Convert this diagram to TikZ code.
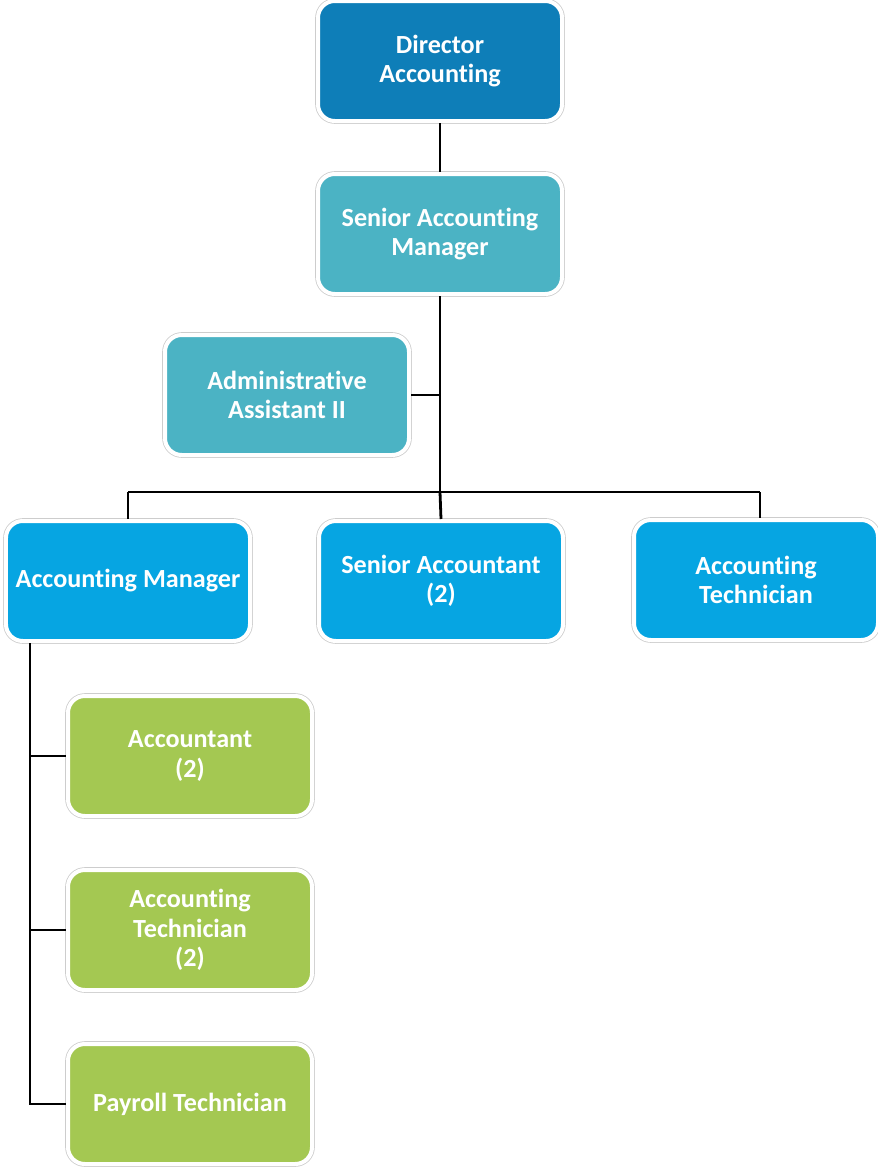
\documentclass[tikz,border=0pt]{standalone}
\usepackage{fontspec}
\setmainfont[Ligatures=NoCommon]{Carlito}
\usepackage{xcolor}
\definecolor{orgdirector}{RGB}{14,126,184}
\definecolor{orgteal}{RGB}{75,179,196}
\definecolor{orgblue}{RGB}{6,165,226}
\definecolor{orggreen}{RGB}{164,200,82}
\definecolor{orgrim}{RGB}{205,205,205}
\begin{document}
\begin{tikzpicture}[every node/.style={font=\bfseries\fontsize{18.6}{20.8}\selectfont, text=white, align=center},
    orgbox/.style={draw=white, line width=0.1cm, rounded corners=0.42cm, minimum width=6.1cm, minimum height=3cm,
      preaction={draw=orgrim, line width=0.14cm}},
    link/.style={line width=0.07cm, black}]
        \useasboundingbox (0,0) rectangle (21.95,-29.175);
        \node[orgbox, fill=orgdirector] (dir) at (11.0,-1.525) {Director\\Accounting};
        \node[orgbox, fill=orgteal] (sam) at (11.0,-5.85) {Senior Accounting\\Manager};
        \node[orgbox, fill=orgteal] (admin) at (7.175,-9.875) {Administrative\\Assistant II};
        \node[orgbox, fill=orgblue] (mgr) at (3.2,-14.525) {Accounting Manager};
        \node[orgbox, fill=orgblue] (sracc) at (11.025,-14.525) {Senior Accountant\\(2)};
        \node[orgbox, fill=orgblue] (tech) at (18.9,-14.5) {Accounting\\Technician};
        \node[orgbox, fill=orggreen] (acc) at (4.75,-18.9) {Accountant\\(2)};
        \node[orgbox, fill=orggreen] (tech2) at (4.75,-23.25) {Accounting\\Technician\\(2)};
        \node[orgbox, fill=orggreen] (pay) at (4.75,-27.6) {Payroll Technician};
        \coordinate (bus) at (11.0,-12.3);
        \coordinate (spine) at (0.75,-14.525);
        \draw[link] (dir) -- (sam);
        \draw[link] (sam) -- (bus);
        \draw[link] (admin.east) -- (admin.east -| sam);
        \draw[link] (mgr.north |- bus) -- ([xshift=0.1cm]tech.north |- bus);
        \draw[link] (mgr.north |- bus) -- (mgr.north);
        \draw[link] (bus) -- (sracc.north);
        \draw[link] ([xshift=0.1cm]tech.north |- bus) -- ([xshift=0.1cm]tech.north);
        \draw[link] (spine |- mgr.south) -- (spine |- pay.west) -- (pay.west);
        \draw[link] (spine |- acc.west) -- (acc.west);
        \draw[link] (spine |- tech2.west) -- (tech2.west);
      \end{tikzpicture}
\end{document}
